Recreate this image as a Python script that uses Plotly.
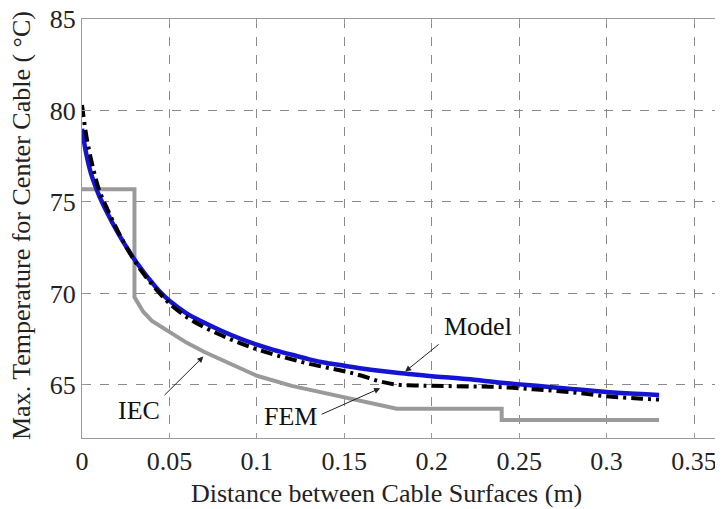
import plotly.graph_objects as go

# ---- data ----
model_x = [0, 0.0025, 0.005, 0.0075, 0.01, 0.015, 0.02, 0.025, 0.03, 0.035, 0.04, 0.045,
           0.05, 0.06, 0.07, 0.08, 0.09, 0.1, 0.11, 0.12, 0.13, 0.14, 0.15, 0.16, 0.17,
           0.18, 0.19, 0.2, 0.22, 0.24, 0.26, 0.28, 0.3, 0.32, 0.33]
model_t = [79.0, 77.6, 76.6, 75.9, 75.3, 74.3, 73.4, 72.6, 71.85, 71.2, 70.6, 70.05,
           69.6, 68.9, 68.4, 67.95, 67.55, 67.2, 66.9, 66.65, 66.4, 66.2, 66.05, 65.9, 65.77,
           65.66, 65.57, 65.48, 65.32, 65.12, 64.95, 64.78, 64.62, 64.5, 64.45]

fem_x = model_x
fem_t = [80.3, 78.6, 77.4, 76.4, 75.6, 74.5, 73.5, 72.6, 71.8, 71.1, 70.5, 69.95,
         69.45, 68.7, 68.15, 67.7, 67.3, 66.95, 66.65, 66.4, 66.15, 65.95, 65.75, 65.5, 65.2,
         65.02, 64.97, 64.95, 64.92, 64.88, 64.75, 64.6, 64.38, 64.25, 64.2]

iec_x = [0, 0.03, 0.03, 0.035, 0.04, 0.05, 0.06, 0.07, 0.08, 0.1, 0.12, 0.15, 0.18, 0.24, 0.24, 0.33]
iec_t = [75.7, 75.7, 69.8, 69.0, 68.5, 67.9, 67.3, 66.8, 66.35, 65.5, 64.95, 64.3, 63.7, 63.7, 63.08, 63.08]

x_ticks = [0, 0.05, 0.1, 0.15, 0.2, 0.25, 0.3, 0.35]
x_tick_labels = ["0", "0.05", "0.1", "0.15", "0.2", "0.25", "0.3", "0.35"]
y_ticks = [65, 70, 75, 80, 85]

x_title = "Distance between Cable Surfaces (m)"
y_title = "Max. Temperature for Center Cable ( °C)"

FONT = "Liberation Serif, Times New Roman, serif"

fig = go.Figure()
fig.add_trace(go.Scatter(x=iec_x, y=iec_t, mode="lines", name="IEC",
                         line=dict(color="#9a9a9a", width=4)))
fig.add_trace(go.Scatter(x=model_x, y=model_t, mode="lines", name="Model",
                         line=dict(color="#1414d2", width=4.5, shape="spline")))
fig.add_trace(go.Scatter(x=fem_x, y=fem_t, mode="lines", name="FEM",
                         line=dict(color="#000000", width=4, dash="12px,5px,3px,5px",
                                   shape="spline")))

axis_common = dict(
    showline=True, linecolor="#9a9a9a", linewidth=1, mirror="ticks",
    showgrid=True, gridcolor="#8a8a8a", gridwidth=1, griddash="dash",
    ticks="inside", ticklen=5, tickcolor="#9a9a9a", zeroline=False,
    automargin=False, ticklabeloverflow="allow",
    tickfont=dict(family=FONT, size=26, color="#222222"),
)

fig.update_xaxes(range=[0, 0.3677], tickvals=x_ticks, ticktext=x_tick_labels, **axis_common)
fig.update_yaxes(range=[62.1, 85], tickvals=y_ticks, **axis_common)

# axis titles as annotations (placed like the reference)
fig.add_annotation(x=-0.0933, y=0.506, xref="paper", yref="paper", text=y_title,
                   textangle=-90, showarrow=False, xanchor="center", yanchor="middle",
                   font=dict(family=FONT, size=26, color="#222222"))
fig.add_annotation(x=0.4743, y=-0.1313, xref="paper", yref="paper", text=x_title,
                   showarrow=False, xanchor="center", yanchor="middle",
                   font=dict(family=FONT, size=26, color="#222222"))

ann_font = dict(family=FONT, size=26, color="#111111")
arrows = [
    (0.1848, 65.73, 0.2048, 67.28),
    (0.1705, 64.82, 0.1362, 63.36),
    (0.0694, 66.55, 0.0463, 64.36),
]
for hx, hy, tx, ty in arrows:
    fig.add_annotation(x=hx, y=hy, ax=tx, ay=ty, xref="x", yref="y", axref="x", ayref="y",
                       text="", showarrow=True, arrowhead=2, arrowsize=1.2, arrowwidth=1,
                       arrowcolor="#222222")
labels = [("Model", 0.2265, 68.17), ("FEM", 0.1193, 63.25), ("IEC", 0.0326, 63.63)]
for txt, lx, ly in labels:
    fig.add_annotation(x=lx, y=ly, xref="x", yref="y", text=txt, showarrow=False,
                       xanchor="center", yanchor="middle", font=ann_font)

# the page body adds an 8px offset; the plot area runs past the right edge like the reference
fig.update_layout(
    width=717, height=501,
    margin=dict(l=74, r=0, t=11, b=71),
    paper_bgcolor="white", plot_bgcolor="white",
    showlegend=False,
)

fig.write_html("out.html")
